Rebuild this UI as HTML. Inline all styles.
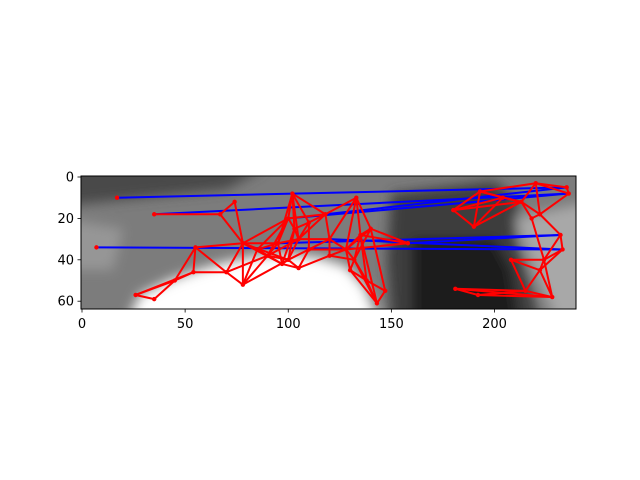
<!DOCTYPE html>
<html><head><meta charset="utf-8"><style>
body{margin:0;background:#fff;width:640px;height:480px;overflow:hidden}
svg{display:block;font-family:"DejaVu Sans","Liberation Sans",sans-serif}
</style></head><body>
<svg id="chart" width="640" height="480">
<defs>
<clipPath id="clip"><rect x="81" y="176" width="495" height="133"/></clipPath>
<filter id="blur" filterUnits="userSpaceOnUse" x="0" y="100" width="700" height="300"><feGaussianBlur stdDeviation="6"/></filter>
</defs>
<g clip-path="url(#clip)">
<rect x="81" y="176" width="495" height="133" fill="#7c7c7c"/>
<g filter="url(#blur)" id="bg"></g>
</g>
<g id="edges" clip-path="url(#clip)"></g>
<g id="nodes" clip-path="url(#clip)"></g>
<rect x="81" y="176" width="495" height="133" fill="none" stroke="#000" stroke-width="1"/>
<g id="axes"></g>
</svg>
<script>
const xTicks=[0,50,100,150,200];
const yTicks=[0,20,40,60];
const nodeX=[17,35,67,74,78,55,54,70,78,26,35,45,102,100,103,110,118,105,95,90,100,105,97,85,120,110,133,140,135,128,132,138,147,143,130,158,120,180,193,190,204,213,220,235,236,218,222,232,233,224,208,215,228,181,192,222,7];
const nodeY=[10,18,18,12,32,34,46,46,52,57,59,50,8,20,25,22,18,30,32,38,40,44,42,35,30,35,10,25,28,35,40,50,55,61,45,32,38,16,7,24,10,12,3,5,8,20,18,28,35,40,40,55,58,54,57,45,34];
const redEdges=[[1,2],[2,3],[3,4],[2,4],[5,6],[5,7],[6,7],[5,11],[6,11],[9,10],[9,11],[10,11],[9,6],[7,8],[4,8],[8,23],[7,4],[7,19],[4,18],[4,20],[4,13],[4,22],[8,19],[8,20],[12,13],[12,14],[12,17],[12,15],[13,14],[13,16],[13,18],[14,17],[14,15],[15,16],[16,17],[16,24],[17,18],[17,19],[17,20],[18,19],[18,22],[19,20],[19,23],[20,21],[20,22],[21,22],[21,25],[22,23],[23,13],[24,25],[25,20],[14,20],[15,25],[12,18],[13,19],[16,26],[24,26],[24,29],[25,29],[36,29],[36,24],[36,21],[17,24],[26,27],[26,28],[26,29],[27,28],[27,30],[28,29],[28,30],[29,30],[30,31],[30,34],[31,32],[31,33],[32,33],[34,33],[34,31],[28,31],[27,32],[29,34],[28,35],[27,35],[30,33],[36,30],[35,29],[37,38],[37,39],[37,40],[38,39],[38,40],[39,40],[38,41],[40,41],[41,42],[42,43],[42,44],[43,44],[41,45],[45,46],[46,44],[41,46],[39,41],[42,46],[37,41],[45,49],[46,47],[47,48],[48,49],[47,49],[49,50],[50,51],[51,52],[49,52],[52,55],[55,51],[53,54],[53,51],[54,51],[53,52],[54,52],[50,55],[48,55],[49,55],[38,42],[5,4],[12,16],[14,22],[18,23],[15,17],[27,29],[31,30],[28,33]];
const blueEdges=[[0,43],[1,44],[56,48],[18,47],[35,47],[24,48],[13,44],[16,43]];
const X=v=>82+v*2.0625, Y=v=>177+v*2.07;
const NS="http://www.w3.org/2000/svg";
function mk(tag,attrs,parent){const e=document.createElementNS(NS,tag);for(const k in attrs)e.setAttribute(k,attrs[k]);parent.appendChild(e);return e;}
const bg=document.getElementById('bg');
const pts=a=>a.map(p=>X(p[0])+','+Y(p[1])).join(' ');
let p;
p=mk('polygon',{points:pts([[-10,-5],[90,-5],[70,6],[30,10],[-10,14]]),fill:'#4a4a4a'},bg);

p=mk('polygon',{points:pts([[-10,20],[20,25],[15,45],[-10,45]]),fill:'#969696'},bg);

p=mk('polygon',{points:pts([[150,8],[200,2],[212,12],[210,28],[222,70],[150,70],[148,40]]),fill:'#3c3c3c'},bg);

p=mk('polygon',{points:pts([[160,30],[200,30],[208,45],[212,70],[160,70]]),fill:'#1c1c1c'},bg);

p=mk('polygon',{points:pts([[210,20],[245,12],[245,70],[230,70],[218,42]]),fill:'#a8a8a8'},bg);

p=mk('polygon',{points:pts([[22,70],[28,57],[42,50],[56,45],[70,41],[85,38],[100,37],[115,39],[128,43],[137,53],[144,70]]),fill:'#ffffff'},bg);

const eg=document.getElementById('edges');
for(const [a,b] of blueEdges){
 const l=mk('line',{x1:X(nodeX[a]),y1:Y(nodeY[a]),x2:X(nodeX[b]),y2:Y(nodeY[b]),stroke:'#0000ff','stroke-width':2},eg);
 
 
}
for(const [a,b] of redEdges){
 const l=mk('line',{x1:X(nodeX[a]),y1:Y(nodeY[a]),x2:X(nodeX[b]),y2:Y(nodeY[b]),stroke:'#ff0000','stroke-width':2},eg);
 
 
}
const ng=document.getElementById('nodes');
for(let i=0;i<nodeX.length;i++){
 const c=mk('circle',{cx:X(nodeX[i]),cy:Y(nodeY[i]),r:2.2,fill:'#ff0000'},ng);
 
 
}
const ax=document.getElementById('axes');
for(const t of xTicks){
 const l=mk('line',{x1:X(t),y1:309,x2:X(t),y2:312.5,stroke:'#000','stroke-width':0.8},ax);
 
 
 const tx=mk('text',{x:X(t),y:328,'text-anchor':'middle','font-size':13},ax);
 tx.textContent=t;
 
 
}
for(const t of yTicks){
 const l=mk('line',{x1:77.5,y1:Y(t),x2:81,y2:Y(t),stroke:'#000','stroke-width':0.8},ax);
 
 
 const tx=mk('text',{x:74,y:Y(t)+4.5,'text-anchor':'end','font-size':13},ax);
 tx.textContent=t;
 
 
}
</script>
</body></html>
